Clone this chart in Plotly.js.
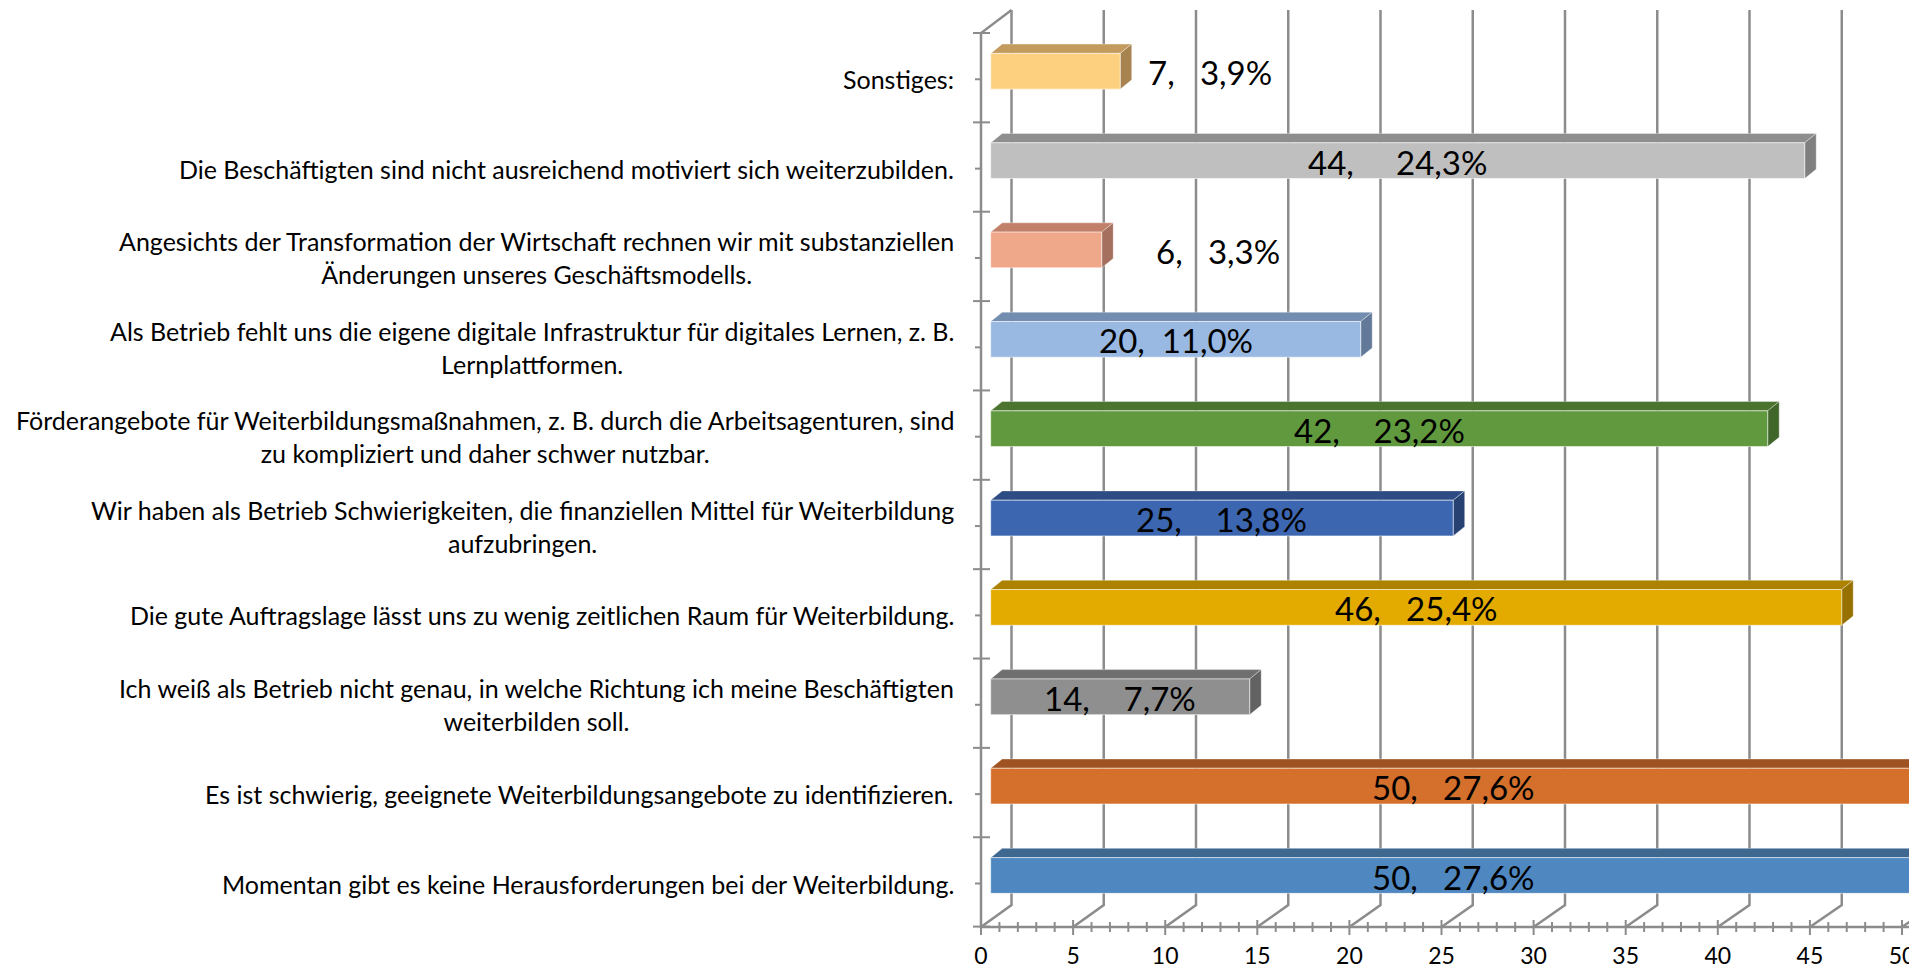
<!DOCTYPE html>
<html><head><meta charset="utf-8">
<script src="https://cdn.plot.ly/plotly-3.0.1.min.js"></script>
<style>html,body{margin:0;padding:0;background:#fff;overflow:hidden}</style>
</head><body><div id="chart" style="width:1909px;height:971px"></div>
<script>
// ---------- data (bottom to top) ----------
const categories = [
  "Momentan gibt es keine Herausforderungen bei der Weiterbildung.",
  "Es ist schwierig, geeignete Weiterbildungsangebote zu identifizieren.",
  "Ich weiß als Betrieb nicht genau, in welche Richtung ich meine Beschäftigten<br>weiterbilden soll.",
  "Die gute Auftragslage lässt uns zu wenig zeitlichen Raum für Weiterbildung.",
  "Wir haben als Betrieb Schwierigkeiten, die finanziellen Mittel für Weiterbildung<br>aufzubringen.",
  "Förderangebote für Weiterbildungsmaßnahmen, z. B. durch die Arbeitsagenturen, sind<br>zu kompliziert und daher schwer nutzbar.",
  "Als Betrieb fehlt uns die eigene digitale Infrastruktur für digitales Lernen, z. B.<br>Lernplattformen.",
  "Angesichts der Transformation der Wirtschaft rechnen wir mit substanziellen<br>Änderungen unseres Geschäftsmodells.",
  "Die Beschäftigten sind nicht ausreichend motiviert sich weiterzubilden.",
  "Sonstiges:"
];
const counts   = [50, 50, 14, 46, 25, 42, 20, 6, 44, 7];
const percents = ["27,6%", "27,6%", "7,7%", "25,4%", "13,8%", "23,2%", "11,0%", "3,3%", "24,3%", "3,9%"];
const xTickVals = [0, 5, 10, 15, 20, 25, 30, 35, 40, 45, 50];

// ---------- styles ----------
const frontColors = ["#4F88C0","#D46F2C","#8F8F8F","#E3AB00","#3C67B0","#619A3E","#99B9E2","#F0A88A","#BFBFBF","#FDD080"];
const topColors   = ["#3E6890","#A05322","#6F6F6F","#AC8200","#2D4C84","#4B752F","#728DB0","#C2806A","#8E8E8E","#C49B5E"];
const sideColors  = ["#34587A","#8A471D","#626262","#967100","#264172","#41662A","#62799A","#A5705E","#7F7F7F","#A6834F"];
const labelGaps   = [3, 3, 4, 3, 4, 4, 2, 3, 5, 3];
const labelOutside= [false,false,false,false,false,false,false,true,false,true];
const outsideShift= [0,0,0,0,0,0,0,52,0,26];

// ---------- geometry (pixels) ----------
const W = 1909, H = 971, PB = 927;            // plot bottom (front floor line)
const BAR0 = 990.7, BARK = 18.5;              // bar plane: x=0 pixel, px per unit
const FR0 = 981, FRK = 18.42;                 // front floor scale
const BK0 = 1011.5, BKK = 18.45;              // back wall scale
const CY0 = 875.5, CYK = 89.36;               // bar centre of index 0, px per category
const BACKFLOOR = 905, TOPWALL = 10, AXTOP = 33;
const DX = 11.5 / BARK, DY = 9.3 / CYK, HALF = 0.2;
const GRID = "#8C8C8C";
const FONT = "Lato, 'Open Sans', sans-serif";

const X = px => px / W;
const Y = py => (PB - py) / PB;

const shapes = [];
// back wall + floor grid lines
xTickVals.forEach(v => {
  const xb = BK0 + BKK * v, xf = FR0 + FRK * v;
  shapes.push({type:"path", xref:"paper", yref:"paper", layer:"below",
    path:`M${X(xb)},${Y(TOPWALL)} L${X(xb)},${Y(BACKFLOOR)} L${X(xf)},${Y(PB)}`,
    line:{color:GRID, width:2.5}});
});
// left axis and top slant + front floor line
shapes.push({type:"path", xref:"paper", yref:"paper", layer:"below",
  path:`M${X(BK0)},${Y(TOPWALL)} L${X(FR0)},${Y(AXTOP)} L${X(FR0)},${Y(PB)} L${X(W+5)},${Y(PB)}`,
  line:{color:GRID, width:2.5}});
// left axis ticks
for (let k = 0; k <= categories.length; k++) {
  const yb = AXTOP + k * CYK;
  shapes.push({type:"line", xref:"paper", yref:"paper", layer:"below",
    x0:X(FR0-8), x1:X(FR0+9), y0:Y(yb), y1:Y(yb), line:{color:GRID, width:2}});
}
categories.forEach((c, i) => {
  const yc = CY0 - i * CYK + 8;
  shapes.push({type:"line", xref:"paper", yref:"paper", layer:"below",
    x0:X(FR0-6), x1:X(FR0), y0:Y(yc), y1:Y(yc), line:{color:GRID, width:2}});
});
// floor ticks (major + minor)
for (let v = 0; v <= 50; v++) {
  const xf = FR0 + FRK * v;
  const major = xTickVals.includes(v);
  shapes.push({type:"line", xref:"paper", yref:"paper", layer:"below",
    x0:X(xf), x1:X(xf), y0:Y(major ? 920 : 922), y1:Y(major ? 935 : 932),
    line:{color:GRID, width:2}});
}
// 3D bar faces (top + side)
counts.forEach((v, i) => {
  const yt = i + HALF, yb = i - HALF;
  shapes.push({type:"path", xref:"x2", yref:"y", layer:"below",
    path:`M0,${yt} L${v},${yt} L${v+DX},${yt+DY} L${DX},${yt+DY} Z`,
    fillcolor:topColors[i], line:{color:"rgba(255,255,255,0.35)", width:1}});
  shapes.push({type:"path", xref:"x2", yref:"y", layer:"below",
    path:`M${v},${yb} L${v},${yt} L${v+DX},${yt+DY} L${v+DX},${yb+DY} Z`,
    fillcolor:sideColors[i], line:{color:"rgba(255,255,255,0.35)", width:1}});
});

const annotations = [];
categories.forEach((c, i) => {
  annotations.push({xref:"paper", yref:"y", x:X(956), y:i, yshift:-8,
    xanchor:"right", yanchor:"middle", align:"center", showarrow:false,
    text:c, font:{family:FONT, size:25, color:"#000"}});
});
counts.forEach((v, i) => {
  const txt = v + "," + "\u00A0".repeat(labelGaps[i]) + percents[i];
  const out = labelOutside[i];
  annotations.push({xref:"x2", yref:"y", x: out ? v : v / 2, y:i, yshift:-1,
    xshift: out ? outsideShift[i] : 0,
    xanchor: out ? "left" : "center", yanchor:"middle", showarrow:false,
    text:txt, font:{family:FONT, size:33, color:"#000"}});
});

const bars = {
  type:"bar", orientation:"h", x:counts, y:categories.map((c, i) => i),
  xaxis:"x2", yaxis:"y",
  width:0.4, marker:{color:frontColors, line:{color:"rgba(255,255,255,0.55)", width:1}},
  hoverinfo:"none", textposition:"none", showlegend:false
};
// carrier for the front (floor) value axis
const floorAxis = {type:"scatter", mode:"markers", x:[], y:[], xaxis:"x", yaxis:"y",
  hoverinfo:"none", showlegend:false};

const layout = {
  width:W, height:H, margin:{l:0, r:0, t:0, b:H-PB, pad:0},
  paper_bgcolor:"#fff", plot_bgcolor:"rgba(0,0,0,0)",
  showlegend:false, bargap:0,
  xaxis:{anchor:"y", side:"bottom",
    range:[-FR0/FRK, (W-FR0)/FRK], tickmode:"array", tickvals:xTickVals,
    ticks:"outside", ticklen:8, tickcolor:"rgba(0,0,0,0)",
    showline:false, showgrid:false, zeroline:false, automargin:false,
    ticklabeloverflow:"allow",
    tickfont:{family:FONT, size:23, color:"#000"}, fixedrange:true},
  xaxis2:{overlaying:"x", anchor:"y", range:[-BAR0/BARK, (W-BAR0)/BARK],
    showticklabels:false, ticks:"", showline:false, showgrid:false, zeroline:false, fixedrange:true},
  yaxis:{range:[-(PB-CY0)/CYK, CY0/CYK], showticklabels:false, ticks:"",
    showline:false, showgrid:false, zeroline:false, fixedrange:true},
  shapes:shapes, annotations:annotations
};

Plotly.newPlot("chart", [floorAxis, bars], layout, {staticPlot:true, displayModeBar:false});
</script></body></html>
